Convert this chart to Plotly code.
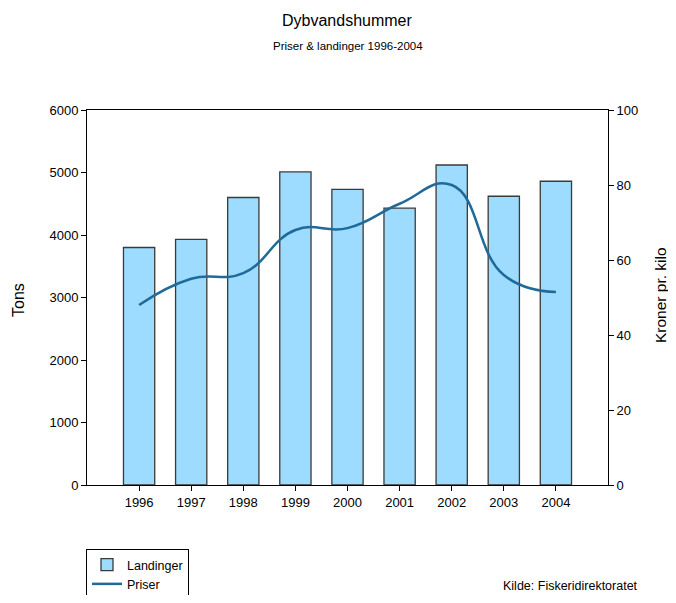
import plotly.graph_objects as go

years = [1996, 1997, 1998, 1999, 2000, 2001, 2002, 2003, 2004]
landinger = [3800, 3930, 4600, 5010, 4730, 4430, 5120, 4620, 4860]
priser = [48, 55, 56.5, 68, 68.5, 75, 80, 56, 51.5]
year_labels = [str(y) for y in years]

FONT = "Liberation Sans, Arial, sans-serif"
OFF = 8  # page body margin
W, H = 676 - 2 * OFF, 603 - 2 * OFF
# plot-area edges in page pixels
X0, X1, Y0, Y1 = 87, 608, 110, 485
L, R, T, B = X0 - OFF, W - (X1 - OFF), Y0 - OFF, H - (Y1 - OFF)
pw, ph = X1 - X0, Y1 - Y0

def px(x):
    return (x - X0) / pw

def py(y):
    return (Y1 - y) / ph

fig = go.Figure()
fig.add_trace(go.Bar(
    x=years, y=landinger, name="Landinger", width=0.6,
    marker=dict(color="#9EDCFF", line=dict(color="#3a3a3a", width=1.3)),
    yaxis="y",
))
fig.add_trace(go.Scatter(
    x=years, y=priser, name="Priser", mode="lines",
    line=dict(color="#1F6A9A", width=2.5, shape="spline", smoothing=1.3),
    yaxis="y2",
))

fig.update_layout(
    width=W, height=H,
    margin=dict(l=L, r=R, t=T, b=B, pad=0, autoexpand=False),
    paper_bgcolor="white", plot_bgcolor="white",
    font=dict(family=FONT, size=14, color="black"),
    showlegend=True,
    legend=dict(
        x=px(86), y=py(549), xanchor="left", yanchor="top",
        bordercolor="black", borderwidth=1, font=dict(size=12.5),
        bgcolor="white", tracegroupgap=0,
    ),
    xaxis=dict(
        range=[1995, 2005], tickmode="array", tickvals=years, ticktext=year_labels,
        showline=True, linecolor="black", linewidth=1, mirror=True,
        ticks="outside", ticklen=5, tickcolor="black", showgrid=False, zeroline=False,
        tickfont=dict(size=13),
    ),
    yaxis=dict(
        range=[0, 6000], dtick=1000, showline=True, linecolor="black", linewidth=1,
        ticks="outside", ticklen=5, tickcolor="black", showgrid=False, zeroline=False,
        tickfont=dict(size=13),
    ),
    yaxis2=dict(
        range=[0, 100], dtick=20, overlaying="y", side="right",
        showline=True, linecolor="black", linewidth=1,
        ticks="outside", ticklen=5, tickcolor="black", showgrid=False, zeroline=False,
        tickfont=dict(size=13),
    ),
    annotations=[
        dict(text="Dybvandshummer", x=0.5, xref="paper", y=py(20), yref="paper",
             showarrow=False, font=dict(size=16), xanchor="center", yanchor="middle"),
        dict(text="Priser & landinger 1996-2004", x=0.5, xref="paper", y=py(46), yref="paper",
             showarrow=False, font=dict(size=11.5), xanchor="center", yanchor="middle"),
        dict(text="Tons", x=px(18), xref="paper", y=py(300), yref="paper", textangle=-90,
             showarrow=False, font=dict(size=16), xanchor="center", yanchor="middle"),
        dict(text="Kroner pr. kilo", x=px(660), xref="paper", y=py(295), yref="paper", textangle=-90,
             showarrow=False, font=dict(size=15.5), xanchor="center", yanchor="middle"),
        dict(text="Kilde: Fiskeridirektoratet", x=px(640), xref="paper", y=py(586), yref="paper",
             showarrow=False, font=dict(size=12.5), xanchor="right", yanchor="middle"),
    ],
)

fig.write_html("out.html")
